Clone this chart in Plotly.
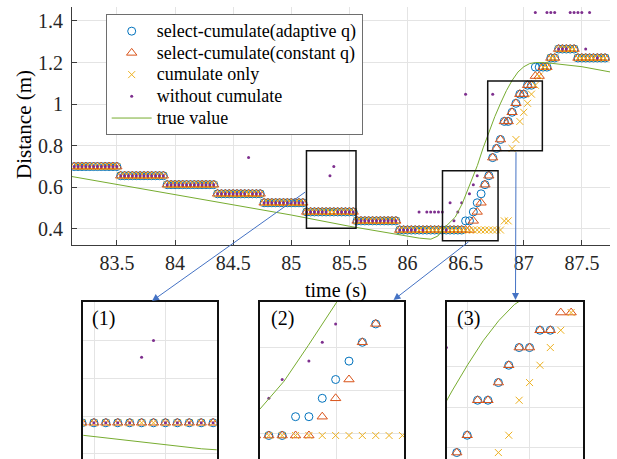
import plotly.graph_objects as go

# ---------------- data ----------------
T_START = 83.132      # time of first sample (s)
FRAME_RATE = 30.0     # samples per second

steps_common = ([0.700] * 12 + [0.656] * 12 + [0.613] * 13 + [0.569] * 12 +
                [0.526] * 11 + [0.482] * 13 + [0.439] * 11)

adaptive_q = steps_common + [0.395] * 17 + [
    0.439, 0.439, 0.482, 0.526, 0.569, 0.613, 0.656, 0.743, 0.787, 0.830,
    0.917, 0.917, 0.961, 1.004, 1.048, 1.048, 1.091, 1.091,
    1.178, 1.178, 1.178, 1.178, 1.222, 1.222] + [1.265] * 5 + [1.222] * 8

constant_q = steps_common + [0.395] * 19 + [
    0.439, 0.482, 0.526, 0.613, 0.656, 0.743, 0.787, 0.830,
    0.917, 0.917, 0.961, 1.004, 1.048, 1.048, 1.091, 1.091,
    1.135, 1.135, 1.178, 1.178, 1.222, 1.222] + [1.265] * 5 + [1.222] * 8

cumulate_only = steps_common + [0.395] * 27 + [
    0.439, 0.439, 0.787, 0.830, 0.917, 0.961, 1.004, 1.048, 1.091, 1.135,
    1.178, 1.178, 1.222, 1.222] + [1.265] * 5 + [1.222] * 8

N = None
without_cumulate = ([0.700] * 12 + [0.656] * 12 + [0.613] * 13 + [0.569] * 8 + [0.743] +
                    [0.569] * 3 + [0.526] * 11 + [0.482] * 6 + [0.656, 0.700] + [0.482] * 5 +
                    [0.439] * 11 + [0.395] * 5 + [0.482, 0.395] + [0.482] * 5 + [0.395] +
                    [0.526, 0.439, 0.482, 0.526, 1.048, 0.569, 0.613, 0.656] +
                    [N] * 3 + [1.048] + [N] * 10 + [1.440] + [N] * 2 + [1.440] * 3 +
                    [1.265] * 3 + [1.440] * 4 + [1.265, 1.440, N, 1.222, N, N])

time_s = [round(T_START + k / FRAME_RATE, 4) for k in range(len(adaptive_q))]

true_t = [83.113, 84.0, 84.5, 85.0, 85.5, 85.8, 86.0, 86.1, 86.2, 86.26, 86.31, 86.36,
          86.41, 86.47, 86.53, 86.6, 86.65, 86.7, 86.75, 86.8, 86.85, 86.9, 86.95,
          87.0, 87.05, 87.1, 87.18, 87.5, 87.741]
true_v = [0.652, 0.565, 0.516, 0.467, 0.413, 0.385, 0.365, 0.356, 0.351, 0.366, 0.402, 0.43,
          0.457, 0.522, 0.605, 0.705, 0.79, 0.87, 0.94, 1.005, 1.065, 1.115, 1.155,
          1.18, 1.195, 1.2, 1.2, 1.18, 1.155]

x_ticks = [83.5, 84, 84.5, 85, 85.5, 86, 86.5, 87, 87.5]
x_ticktext = ["83.5", "84", "84.5", "85", "85.5", "86", "86.5", "87", "87.5"]
y_ticks = [0.4, 0.6, 0.8, 1.0, 1.2, 1.4]
y_ticktext = ["0.4", "0.6", "0.8", "1", "1.2", "1.4"]

names = ["select-cumulate(adaptive q)", "select-cumulate(constant q)",
         "cumulate only", "without cumulate", "true value"]

# ---------------- styling ----------------
W, H = 617, 459
FONT = "Liberation Serif, Times New Roman, serif"
C_BLUE, C_RED, C_YEL, C_PUR, C_GRN = "#0072BD", "#D95319", "#EDB120", "#7E2F8E", "#77AC30"
GRID = "#e4e4e4"
AX = "#3c3c3c"


def px_x(p):
    return p / W


def px_y(p):
    return 1 - p / H


def legend_name(s):
    return '<span style="font-size:18px">' + s + '</span>'


fig = go.Figure()


def add_set(xa, ya, legend):
    fig.add_trace(go.Scatter(x=time_s, y=adaptive_q, mode="markers", name=legend_name(names[0]),
                             marker=dict(symbol="circle-open", size=8, color=C_BLUE,
                                         line=dict(width=1)),
                             xaxis=xa, yaxis=ya, showlegend=legend))
    fig.add_trace(go.Scatter(x=time_s, y=constant_q, mode="markers", name=legend_name(names[1]),
                             marker=dict(symbol="triangle-up-open", size=9, color=C_RED,
                                         line=dict(width=1)),
                             xaxis=xa, yaxis=ya, showlegend=legend))
    fig.add_trace(go.Scatter(x=time_s, y=cumulate_only, mode="markers", name=legend_name(names[2]),
                             marker=dict(symbol="x-thin-open", size=7, color=C_YEL,
                                         line=dict(width=1, color=C_YEL)),
                             xaxis=xa, yaxis=ya, showlegend=legend))
    fig.add_trace(go.Scatter(x=time_s, y=without_cumulate, mode="markers", name=legend_name(names[3]),
                             marker=dict(symbol="circle", size=3, color=C_PUR),
                             xaxis=xa, yaxis=ya, showlegend=legend))
    fig.add_trace(go.Scatter(x=true_t, y=true_v, mode="lines", name=legend_name(names[4]),
                             line=dict(color=C_GRN, width=1),
                             xaxis=xa, yaxis=ya, showlegend=legend))


add_set("x", "y", True)
add_set("x2", "y2", False)
add_set("x3", "y3", False)
add_set("x4", "y4", False)

tickfont = dict(family=FONT, size=20, color="#262626")

layout = dict(
    width=W, height=H, margin=dict(l=0, r=0, t=0, b=0),
    paper_bgcolor="white", plot_bgcolor="white",
    font=dict(family=FONT, color="#000"),
    xaxis=dict(domain=[px_x(72), px_x(610)], range=[83.113, 87.741], anchor="y",
               tickvals=x_ticks, ticktext=x_ticktext, tickfont=tickfont,
               showgrid=True, gridcolor=GRID, zeroline=False,
               showline=True, linecolor=AX, linewidth=1,
               ticks="inside", ticklen=5, tickcolor=AX, ticklabelstandoff=0),
    yaxis=dict(domain=[px_y(245), px_y(7)], range=[0.323, 1.467], anchor="x",
               tickvals=y_ticks, ticktext=y_ticktext, tickfont=tickfont,
               showgrid=True, gridcolor=GRID, zeroline=False,
               showline=True, linecolor=AX, linewidth=1,
               ticks="inside", ticklen=5, tickcolor=AX, ticklabelstandoff=4),
    legend=dict(x=px_x(105.7), y=px_y(14.3), xanchor="left", yanchor="top",
                bgcolor="white", bordercolor="#6e6e6e", borderwidth=1,
                font=dict(family=FONT, size=14.4, color="#000"),
                tracegroupgap=0, itemwidth=40),
)

insets = [
    # (axis suffix, px left, px right, x range, y range, x grid, y grid)
    ("2", 83.3, 216.7, [85.169, 85.542], [0.386, 0.803], [85.2, 85.4], [0.4, 0.5, 0.6, 0.7]),
    ("3", 260.0, 404.3, [86.41, 86.77], [0.34, 0.708], [86.6], [0.4, 0.5, 0.6]),
    ("4", 446.7, 583.3, [86.733, 87.171], [0.771, 1.162], [86.8, 87.0], [0.8, 0.9, 1.0, 1.1]),
]
for suf, l, r, xr, yr, xg, yg in insets:
    layout["xaxis" + suf] = dict(domain=[px_x(l), px_x(r)], range=xr, anchor="y" + suf,
                                 side="top", tickvals=xg, showticklabels=False, ticks="",
                                 showgrid=True, gridcolor=GRID, zeroline=False,
                                 showline=True, linecolor="#111", linewidth=2)
    layout["yaxis" + suf] = dict(domain=[0, px_y(301.7)], range=yr, anchor="x" + suf,
                                 tickvals=yg, showticklabels=False, ticks="",
                                 showgrid=True, gridcolor=GRID, zeroline=False,
                                 showline=True, mirror=True, linecolor="#111", linewidth=2)

fig.update_layout(**layout)

# zoom boxes on the main axes
boxes = [(85.13, 85.556, 0.403, 0.776), (86.30, 86.778, 0.343, 0.68), (86.689, 87.159, 0.776, 1.111)]
for x0, x1, y0, y1 in boxes:
    fig.add_shape(type="rect", xref="x", yref="y", x0=x0, x1=x1, y0=y0, y1=y1,
                  line=dict(color="#111", width=1.5), layer="above")

# arrows from boxes to insets
arrows = [((152, 301), (306.7, 191)), ((393.5, 300), (470, 240.7)), ((515.5, 300), (516, 150.7))]
for (hx, hy), (tx, ty) in arrows:
    fig.add_annotation(x=px_x(hx), y=px_y(hy), xref="paper", yref="paper",
                       ax=tx - hx, ay=ty - hy, axref="pixel", ayref="pixel",
                       text="", showarrow=True, arrowhead=2, arrowsize=1.4,
                       arrowwidth=1, arrowcolor="#4472C4")

# panel labels
for txt, cx in [("(1)", 103), ("(2)", 282), ("(3)", 468)]:
    fig.add_annotation(x=px_x(cx), y=px_y(318), xref="paper", yref="paper", text=txt,
                       xanchor="center", yanchor="middle",
                       showarrow=False, font=dict(family=FONT, size=20, color="#000"))

# axis titles
fig.add_annotation(x=px_x(336), y=px_y(290), xref="paper", yref="paper", text="time (s)",
                   xanchor="center", yanchor="middle",
                   showarrow=False, font=dict(family=FONT, size=20, color="#000"))
fig.add_annotation(x=px_x(24), y=px_y(125), xref="paper", yref="paper", text="Distance (m)",
                   xanchor="center", yanchor="middle",
                   textangle=-90, showarrow=False, font=dict(family=FONT, size=21, color="#000"))

fig.write_html("out.html", config={"displayModeBar": False},
               post_script="document.body.style.margin='0';"
                           "document.body.style.overflow='hidden';")
